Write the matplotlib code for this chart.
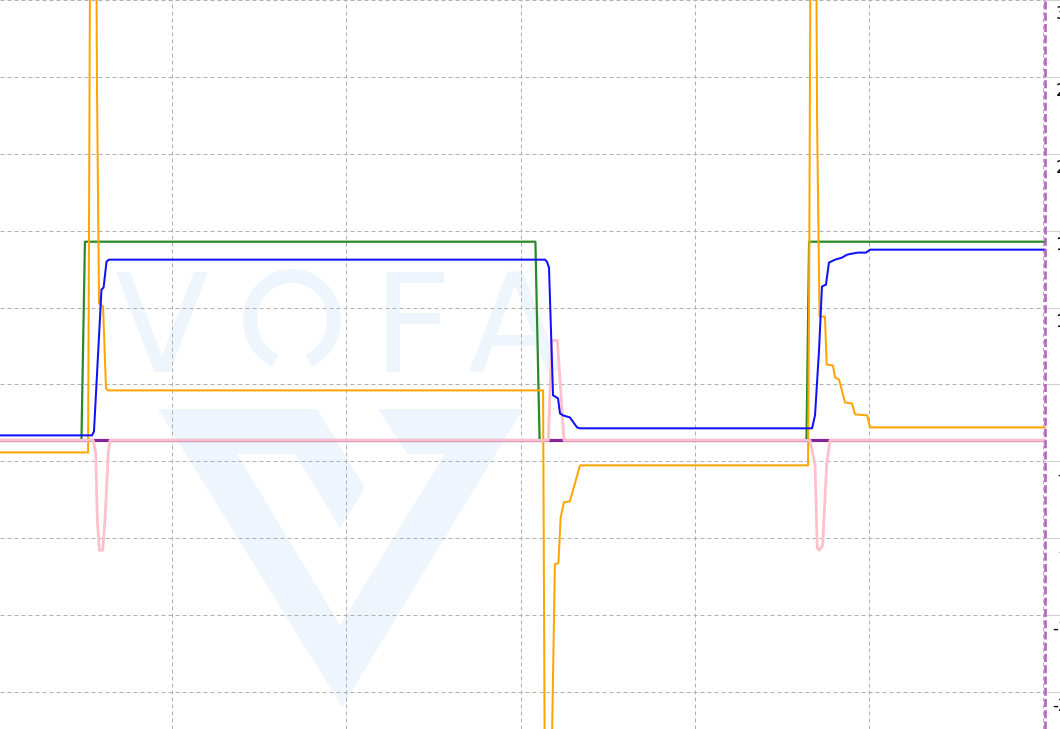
import matplotlib
matplotlib.use("Agg")
import matplotlib.pyplot as plt
from matplotlib.patches import Polygon, Arc
from matplotlib import transforms

# VOFA+ capture: x = sample index, y = channel value
target_x = [1.2, 47.9, 49.9, 308.5, 310.9, 464.1, 465.6, 601.0]
target_y = [0, 0, 15.5, 15.5, 0, 0, 15.5, 15.5]

speed_x = [1.2, 54.0, 55.1, 59.4, 60.6, 62.3, 63.7, 314.0, 315.1, 316.3, 318.6, 319.7,
           321.5, 322.6, 324.3, 328.3, 332.4, 334.1, 467.3, 469.0, 471.3, 473.0, 475.3,
           477.0, 480.5, 484.5, 487.4, 490.2, 493.7, 498.3, 500.6, 601.0]
speed_y = [0.39, 0.39, 0.70, 11.77, 11.92, 13.95, 14.10, 14.10, 13.95, 13.48, 3.51, 3.43,
           3.27, 2.10, 1.95, 1.79, 1.01, 0.94, 0.94, 1.95, 7.01, 12.00, 12.16,
           13.87, 14.10, 14.26, 14.49, 14.57, 14.65, 14.65, 14.88, 14.88]

output_x = [1.2, 51.7, 52.2, 54.5, 56.8, 58.0, 60.3, 62.0, 63.1, 312.9, 315.7, 318.0,
            319.7, 321.7, 323.0, 324.9, 328.3, 334.1, 465.0, 465.6, 467.9, 470.2, 471.6,
            474.7, 475.7, 479.3, 480.5, 482.8, 486.2, 490.2, 492.0, 498.9, 500.6, 601.0]
output_y = [-0.94, -0.94, 14.81, 96.6, 28.05, 10.68, 10.44, 4.05, 3.90, 3.90, -82.6, -23.38,
            -9.66, -9.58, -6.00, -4.83, -4.75, -1.95, -1.95, 10.91, 88.83, 24.94, 9.66,
            9.66, 5.92, 5.84, 4.91, 4.75, 2.96, 2.88, 2.03, 1.95, 1.01, 1.01]

accel_x = [1.2, 54.7, 56.1, 57.0, 58.2, 60.1, 61.4, 63.3, 64.3, 315.9, 317.9, 321.1,
           324.9, 466.1, 469.0, 470.3, 471.5, 473.4, 475.7, 477.6, 601.0]
accel_y = [0, 0, -1.01, -6.23, -8.57, -8.57, -6.23, -1.01, 0, 0, 7.79, 7.79,
           0, 0, -1.87, -8.42, -8.57, -8.18, -1.87, 0, 0]

flag_x = [1.2, 601.0]
flag_y = [0, 0]

xticks = [100, 200, 300, 400, 500, 600]
yticks = [-19.64, -13.64, -7.64, -1.64, 4.36, 10.36, 16.36, 22.36, 28.36, 34.36]
ylabels = ["-20", "-14", "-8", "-2", "4", "10", "16", "22", "28", "34"]
cursor_x = 601.0

fig = plt.figure(figsize=(10.6, 7.29), dpi=100)

# watermark layer in pixel coordinates
bg = fig.add_axes([0, 0, 1, 1], zorder=0)
bg.set_xlim(0, 1060)
bg.set_ylim(729, 0)
bg.axis("off")
wm = "#eef5fc"
logo = [(158, 409), (317, 409), (365, 488), (340, 528), (295, 454), (237, 454),
        (340, 625), (445, 454), (407, 454), (378, 409), (523, 409), (342, 707)]
bg.add_patch(Polygon(logo, closed=True, fc=wm, ec="none"))
for ch, cx in [("V", 162), ("F", 412), ("A", 515)]:
    bg.text(cx, 372, ch, ha="center", va="baseline", fontsize=99, color=wm,
            family="DejaVu Sans")
bg.add_patch(Arc((292, 320), 84, 88, theta1=112, theta2=428, lw=10, color=wm))

ax = fig.add_axes([0, 0, 1046 / 1060, 1], zorder=1)
ax.set_facecolor("none")

ax.plot(target_x, target_y, color="#2a8a2a", lw=1.6)
ax.plot(flag_x, flag_y, color="#85259a", lw=2.3)
ax.plot(output_x, output_y, color="#ffa500", lw=1.45)
ax.plot(accel_x, accel_y, color="#ffc0cb", lw=2.0)
ax.plot(speed_x, speed_y, color="#1010ff", lw=1.45)

ax.axvline(cursor_x, color="#b25bc0", lw=1.8, ls=(0, (3.2, 1.3)), clip_on=False)

ax.set_xlim(1.15, 601.6)
ax.set_ylim(-22.52, 34.3)
ax.set_xticks(xticks)
ax.set_yticks(yticks)
ax.grid(True, color="#b0b0b0", lw=0.72, ls=(0, (4, 3)))
ax.tick_params(axis="x", length=0, labelbottom=False)
ax.tick_params(axis="y", left=False, right=True, length=20, width=0.8,
               color="#d0d0d0", labelleft=False, labelright=False)
for s in ax.spines.values():
    s.set_visible(False)

# right-side value labels, cut by the window edge like in VOFA+
trans = transforms.blended_transform_factory(ax.transAxes, ax.transData) + \
    transforms.ScaledTranslation(0, -0.14, fig.dpi_scale_trans)
for v, s in zip(yticks, ylabels):
    ax.text(1066 / 1046, v, s, transform=trans, ha="center", va="center",
            fontsize=12, color="black", clip_on=False)

fig.savefig("out.png", dpi=100)
